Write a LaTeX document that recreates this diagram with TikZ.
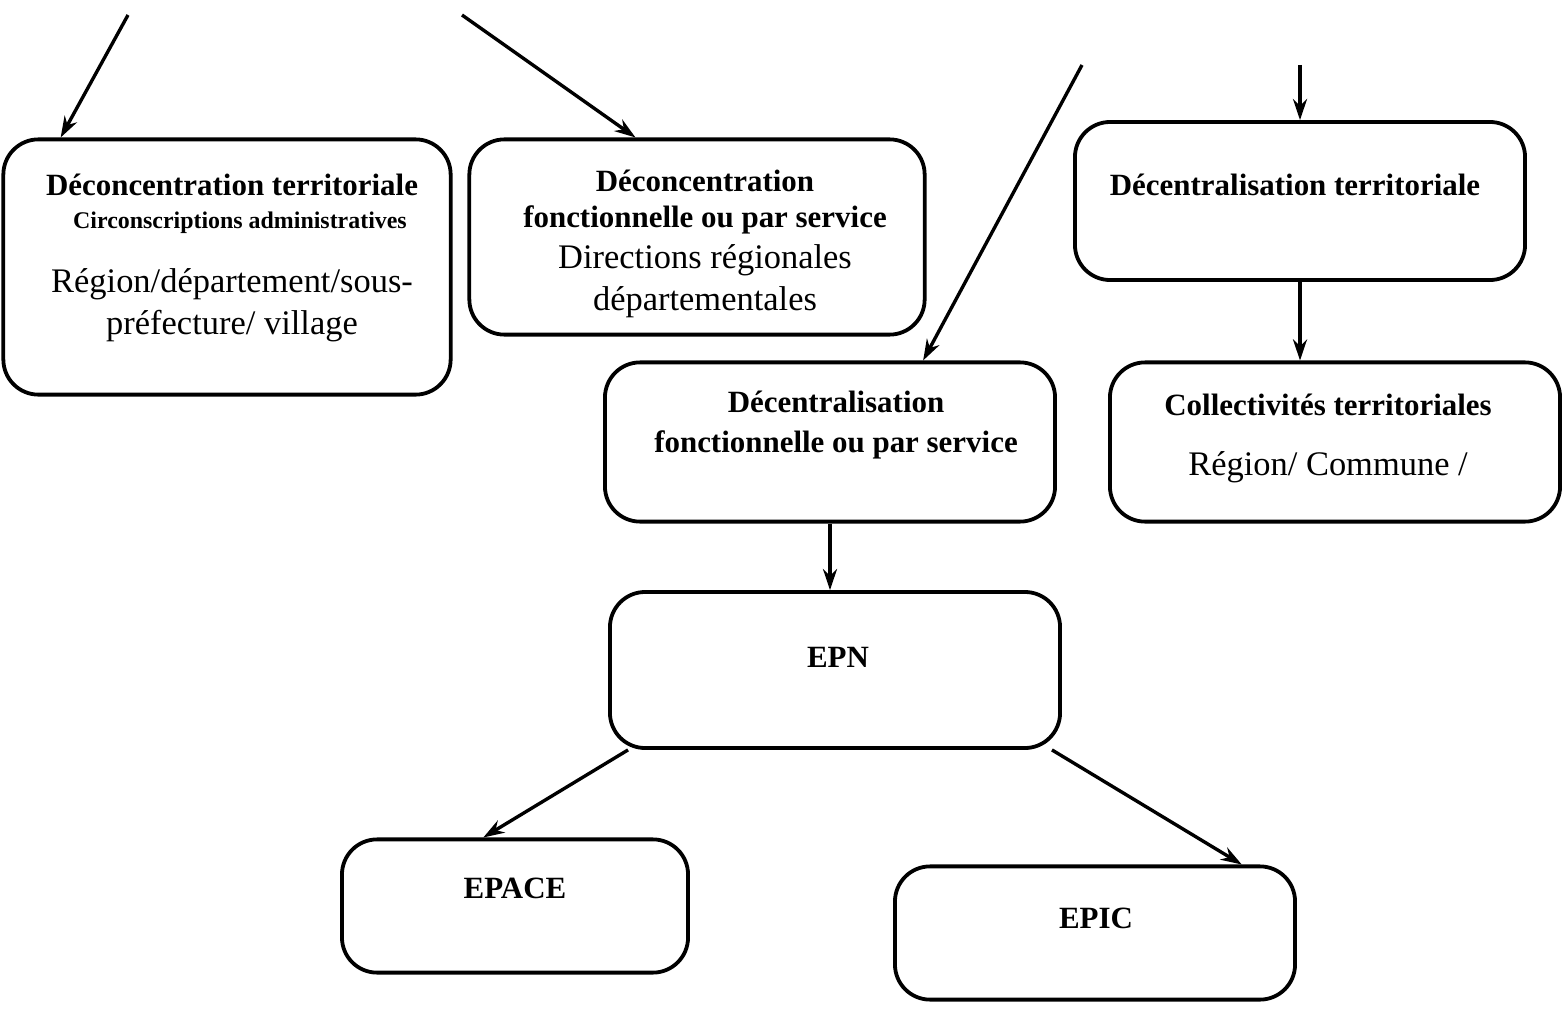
\documentclass[tikz,border=0pt]{standalone}
\usepackage{fontspec}
\setmainfont{Liberation Serif}
\usetikzlibrary{arrows.meta}

\begin{document}
\begin{tikzpicture}[x=0.025cm,y=-0.025cm,>={Stealth[length=15pt,width=10pt]},
  box/.style={draw,rounded corners=25pt,line width=2.7pt,inner sep=0pt},
  title/.style={font=\bfseries\fontsize{22}{25}\selectfont,align=center},
  sub/.style={font=\bfseries\fontsize{17}{19}\selectfont,align=center},
  body/.style={font=\fontsize{24.5}{30}\selectfont,align=center},
  link/.style={->,line width=2.4pt}]
  \useasboundingbox (0,0) rectangle (1564,1012);

  % boxes
  \node[box,minimum width=11.18cm,minimum height=6.38cm] (dt) at (227,267) {};
  \node[box,minimum width=11.38cm,minimum height=4.88cm] (df) at (697,237) {};
  \node[box,minimum width=11.25cm,minimum height=3.95cm] (ct) at (1300,201) {};
  \node[box,minimum width=11.25cm,minimum height=3.98cm] (cf) at (830,442) {};
  \node[box,minimum width=11.25cm,minimum height=3.98cm] (coll) at (1335,442) {};
  \node[box,minimum width=11.25cm,minimum height=3.9cm] (epn) at (835,670) {};
  \node[box,minimum width=8.65cm,minimum height=3.33cm] (epace) at (515,906) {};
  \node[box,minimum width=10cm,minimum height=3.33cm] (epic) at (1095,933) {};

  % texts
  \node[title] (dtT) at (232,185) {Déconcentration territoriale};
  \node[sub] (dtS) at (240,223) {Circonscriptions administratives};
  \node[body] (dtB) at (232,305) {Région/département/sous-\\préfecture/ village};
  \node[title] (dfT) at (705,202) {Déconcentration\\fonctionnelle ou par service};
  \node[body] (dfB) at (705,281) {Directions régionales\\départementales};
  \node[title] (ctT) at (1295,185) {Décentralisation territoriale};
  \node[title,font=\bfseries\fontsize{22}{28}\selectfont] (cfT) at (836,425) {Décentralisation\\fonctionnelle ou par service};
  \node[title] (collT) at (1328,405) {Collectivités territoriales};
  \node[body] (collB) at (1328,467) {Région/ Commune /};
  \node[title] (epnT) at (838,657) {EPN};
  \node[title] (epaceT) at (515,888) {EPACE};
  \node[title] (epicT) at (1096,918) {EPIC};

  % free ends of the arrows
  \coordinate (s1) at (128,15);
  \coordinate (s2) at (462,15);
  \coordinate (s3) at (1082,65);
  \coordinate (s4) at (1300,65);

  \draw[link] (s1) -- ([xshift=1.48cm]dt.north west);
  \draw[link] (s2) -- ([xshift=4.2cm]df.north west);
  \draw[link] (s3) -- ([xshift=8cm]cf.north west);
  \draw[link] (s4) -- (ct.north);
  \draw[link] (ct.south) -- (ct.south |- coll.north);
  \draw[link] (cf.south) -- (cf.south |- epn.north);
  \draw[link] ([xshift=0.5cm]epn.south west) -- ([xshift=3.58cm]epace.north west);
  \draw[link] ([xshift=-0.25cm]epn.south east) -- ([xshift=-1.38cm]epic.north east);
\end{tikzpicture}
\end{document}
